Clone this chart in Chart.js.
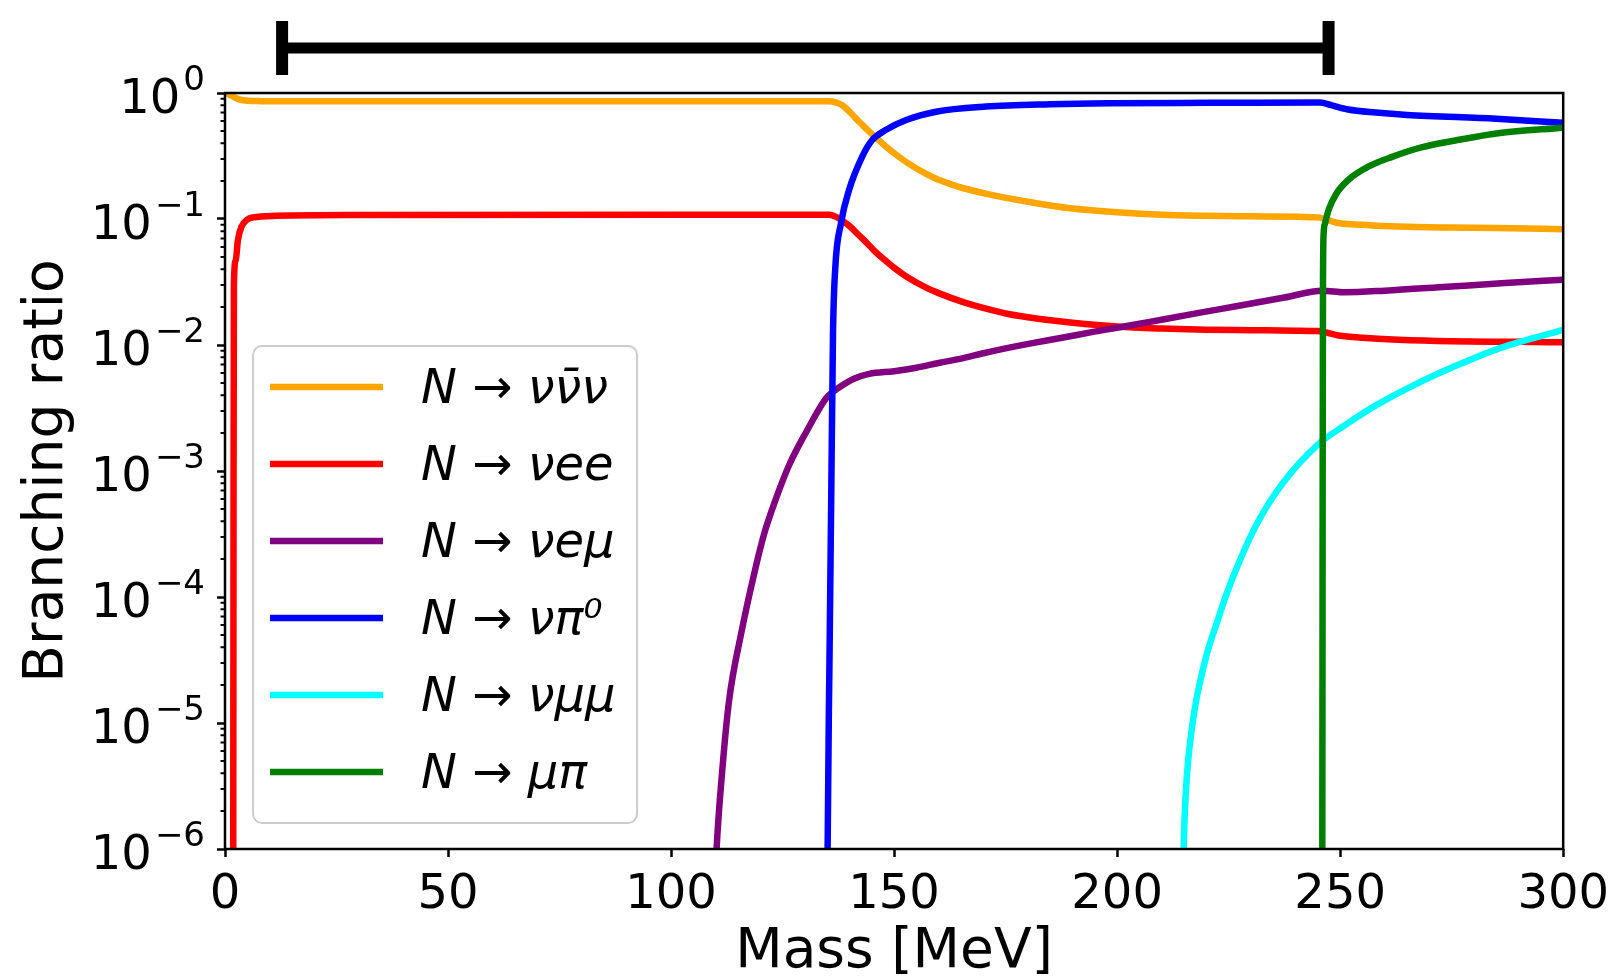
<!DOCTYPE html>
<html>
<head>
<meta charset="utf-8">
<script src="https://cdn.jsdelivr.net/npm/chart.js@4.4.1/dist/chart.umd.min.js"></script>
<style>
  html, body { margin: 0; padding: 0; background: #fff; }
  #wrap { width: 1619px; height: 978px; position: relative; }
</style>
</head>
<body>
<div id="wrap"><canvas id="br"></canvas></div>
<script>
// HNL branching ratios vs. mass (MeV)
const massNuNuNu = [0, 1, 2, 3, 4.5, 8, 20, 60, 100, 135.4, 137, 138.4, 140, 142, 144, 146, 148, 150.4, 153, 157.2, 160, 164.5, 171.3, 180, 185, 190, 200, 210, 220, 230, 240.7, 245, 249.6, 255, 263, 275, 285, 300];
const brNuNuNu   = [1.0, 0.97, 0.93, 0.895, 0.872, 0.862, 0.86, 0.86, 0.86, 0.86, 0.84, 0.80, 0.71, 0.60, 0.51, 0.44, 0.38, 0.325, 0.279, 0.228, 0.205, 0.18, 0.157, 0.137, 0.128, 0.121, 0.113, 0.108, 0.106, 0.105, 0.104, 0.103, 0.093, 0.09, 0.087, 0.0855, 0.085, 0.083];

const massNuEE = [1.7, 1.85, 1.92, 2.0, 2.4, 2.9, 3.7, 5, 6.3, 11.6, 30, 100, 135.4, 137, 138.4, 140, 142, 144, 146, 148, 150.4, 153, 157.2, 160, 165, 170, 175, 180, 185, 190, 200, 210, 220, 230, 240, 245, 249.6, 255, 263, 275, 290, 300];
const brNuEE   = [1e-8, 1e-6, 1e-3, 0.03, 0.047, 0.068, 0.087, 0.099, 0.103, 0.106, 0.1075, 0.108, 0.108, 0.104, 0.097, 0.088, 0.075, 0.064, 0.054, 0.047, 0.040, 0.0345, 0.0285, 0.0258, 0.0222, 0.0197, 0.0178, 0.0166, 0.0157, 0.015, 0.014, 0.0135, 0.0132, 0.0131, 0.013, 0.0129, 0.0119, 0.0114, 0.011, 0.0107, 0.0106, 0.0105];

const massNuEMu = [109, 110.2, 111.5, 113, 115.7, 119, 120.9, 123.5, 126.5, 130.3, 134.8, 136.5, 138.4, 141, 144.4, 150, 155, 160, 165, 170, 175, 180.7, 187, 194.6, 200, 207, 218, 227, 237.5, 246, 251, 260, 274, 287, 300];
const brNuEMu   = [1e-7, 1e-6, 4.3e-6, 1.5e-5, 5.1e-5, 1.74e-4, 3.2e-4, 6e-4, 1.12e-3, 2.04e-3, 3.8e-3, 4.3e-3, 4.8e-3, 5.4e-3, 5.9e-3, 6.2e-3, 6.6e-3, 7.2e-3, 7.8e-3, 8.6e-3, 9.4e-3, 0.0103, 0.0113, 0.0127, 0.0137, 0.0152, 0.0179, 0.0204, 0.0238, 0.027, 0.0262, 0.027, 0.029, 0.031, 0.033];

const massNuPi0 = [134.9, 135.1, 135.5, 135.9, 136.3, 136.8, 138.1, 139.9, 142.8, 145, 148.2, 152.7, 159.4, 170.6, 185, 198, 220, 245.5, 248, 251.8, 258, 265, 285, 300];
const brNuPi0   = [1e-8, 1e-6, 2.8e-5, 5.9e-4, 0.012, 0.04, 0.093, 0.17, 0.31, 0.42, 0.51, 0.61, 0.71, 0.78, 0.815, 0.83, 0.835, 0.84, 0.80, 0.74, 0.70, 0.67, 0.625, 0.58];

const massNuMuMu = [214.3, 214.9, 215.4, 216.8, 219.8, 222.4, 224.5, 227.5, 231.5, 237, 245, 251, 257.9, 266, 275.8, 286, 300];
const brNuMuMu   = [1e-7, 1e-6, 2.8e-6, 9.3e-6, 3.2e-5, 6.3e-5, 1.05e-4, 1.95e-4, 3.9e-4, 7.9e-4, 1.62e-3, 2.3e-3, 3.3e-3, 4.7e-3, 6.8e-3, 9.5e-3, 0.0132];

const massMuPi = [245.9, 246.0, 246.08, 246.15, 246.3, 246.6, 247.4, 249.2, 251.8, 256.3, 261.5, 268.2, 275.8, 285.4, 300];
const brMuPi   = [1e-8, 1e-6, 1e-3, 0.03, 0.077, 0.092, 0.118, 0.16, 0.204, 0.26, 0.31, 0.37, 0.42, 0.48, 0.53];

const seriesLabels = ['N → νν̄ν', 'N → νee', 'N → νeμ', 'N → νπ⁰', 'N → νμμ', 'N → μπ'];
const seriesColors = ['#FFA500', '#FF0000', '#800080', '#0000FF', '#00FFFF', '#008000'];

const xTicks = [0, 50, 100, 150, 200, 250, 300];
const yTickExps = [-6, -5, -4, -3, -2, -1, 0];

// mass range bar above the plot
const errBarMass = [12.8, 247.4];

const FONT = '"DejaVu Sans"';
Chart.defaults.font.family = FONT;

const series = [
  [massNuNuNu, brNuNuNu],
  [massNuEE, brNuEE],
  [massNuEMu, brNuEMu],
  [massNuPi0, brNuPi0],
  [massNuMuMu, brNuMuMu],
  [massMuPi, brMuPi],
];

const datasets = series.map(([xs, ys], i) => ({
  label: seriesLabels[i],
  data: xs.map((m, j) => ({ x: m, y: ys[j] })),
  borderColor: seriesColors[i],
  borderWidth: 6.5,
  borderJoinStyle: 'round',
  pointRadius: 0,
  fill: false,
  cubicInterpolationMode: 'monotone',
  clip: 0,
  order: series.length - i,
}));

const extras = {
  id: 'extras',
  afterDatasetsDraw(chart) {
    const { ctx, chartArea: a, scales: { y } } = chart;
    ctx.save();
    ctx.strokeStyle = '#000';

    // minor ticks on the log axis
    ctx.lineWidth = 2;
    ctx.beginPath();
    for (let e = -6; e < 0; e++) {
      for (let k = 2; k < 10; k++) {
        const py = y.getPixelForValue(k * Math.pow(10, e));
        ctx.moveTo(a.left - 4.5, py);
        ctx.lineTo(a.left, py);
      }
    }
    ctx.stroke();

    // axes box
    ctx.lineWidth = 2.5;
    ctx.strokeRect(a.left, a.top, a.right - a.left, a.bottom - a.top);

    // y tick labels as 10^n
    ctx.fillStyle = '#000';
    ctx.textAlign = 'left';
    ctx.textBaseline = 'alphabetic';
    yTickExps.forEach(e => {
      const py = y.getPixelForValue(Math.pow(10, e));
      const sup = e < 0 ? '\u2212' + (-e) : String(e);
      ctx.font = '34px ' + FONT;
      const wSup = ctx.measureText(sup).width;
      ctx.font = '48px ' + FONT;
      const wBase = ctx.measureText('10').width;
      const xs = a.left - 20 - wSup;
      const xb = xs - 3 - wBase;
      ctx.fillText('10', xb, py + 20);
      ctx.font = '34px ' + FONT;
      ctx.fillText(sup, xs, py - 3);
    });

    // legend
    const lx = a.left + 28, lw = 384, lh = 477;
    const ly = a.bottom - 26 - lh;
    ctx.beginPath();
    ctx.roundRect(lx, ly, lw, lh, 9);
    ctx.fillStyle = 'rgba(255,255,255,0.8)';
    ctx.fill();
    ctx.lineWidth = 2;
    ctx.strokeStyle = '#cccccc';
    ctx.stroke();
    chart.data.datasets.forEach((ds, i) => {
      const ry = ly + 41 + i * 77;
      ctx.beginPath();
      ctx.strokeStyle = ds.borderColor;
      ctx.lineWidth = 6.5;
      ctx.moveTo(lx + 17, ry);
      ctx.lineTo(lx + 130, ry);
      ctx.stroke();
      const [lhs, rhs] = ds.label.split(' → ');
      let tx = lx + 168;
      const by = ry + 16;
      ctx.fillStyle = '#000';
      ctx.font = 'italic 48px ' + FONT;
      ctx.fillText(lhs, tx, by);
      tx += ctx.measureText(lhs).width;
      ctx.font = '48px ' + FONT;
      ctx.fillText(' → ', tx, by);
      tx += ctx.measureText(' → ').width;
      ctx.font = 'italic 48px ' + FONT;
      ctx.fillText(rhs, tx, by);
    });
    ctx.restore();
  },
  afterDraw(chart) {
    const { ctx, chartArea: a, scales: { x } } = chart;
    const x0 = x.getPixelForValue(errBarMass[0]);
    const x1 = x.getPixelForValue(errBarMass[1]);
    const yc = a.top - 45;
    ctx.save();
    ctx.strokeStyle = '#000';
    ctx.lineCap = 'butt';
    ctx.lineWidth = 11;
    ctx.beginPath();
    ctx.moveTo(x0, yc);
    ctx.lineTo(x1, yc);
    ctx.stroke();
    ctx.lineWidth = 12;
    ctx.beginPath();
    ctx.moveTo(x0, yc - 27);
    ctx.lineTo(x0, yc + 27);
    ctx.moveTo(x1, yc - 27);
    ctx.lineTo(x1, yc + 27);
    ctx.stroke();
    ctx.restore();
  }
};

new Chart(document.getElementById('br'), {
  type: 'line',
  data: { datasets },
  options: {
    responsive: true,
    maintainAspectRatio: false,
    animation: false,
    layout: { padding: { top: 93, right: 54, left: 0, bottom: 0 } },
    plugins: { legend: { display: false }, tooltip: { enabled: false } },
    scales: {
      x: {
        type: 'linear',
        min: 0,
        max: 300,
        afterBuildTicks(s) { s.ticks = xTicks.map(v => ({ value: v })); },
        ticks: { color: '#000', font: { size: 48 }, padding: 10, maxRotation: 0, autoSkip: false },
        grid: { drawOnChartArea: false, tickLength: 8, tickWidth: 2.5, tickColor: '#000' },
        border: { display: false },
        title: { display: true, text: 'Mass [MeV]', color: '#000', font: { size: 55, lineHeight: 0.92 }, padding: 0 },
        afterFit(s) { s.height = 129; },
      },
      y: {
        type: 'logarithmic',
        min: 1e-6,
        max: 1,
        afterBuildTicks(s) { s.ticks = yTickExps.map(e => ({ value: Math.pow(10, e) })); },
        ticks: { display: false },
        grid: { drawOnChartArea: false, tickLength: 8, tickWidth: 2.5, tickColor: '#000' },
        border: { display: false },
        title: { display: true, text: 'Branching ratio', color: '#000', font: { size: 55, lineHeight: 1 }, padding: { top: 20, bottom: 0 } },
        afterFit(s) { s.width = 225; },
      },
    },
  },
  plugins: [extras],
});
</script>
</body>
</html>
